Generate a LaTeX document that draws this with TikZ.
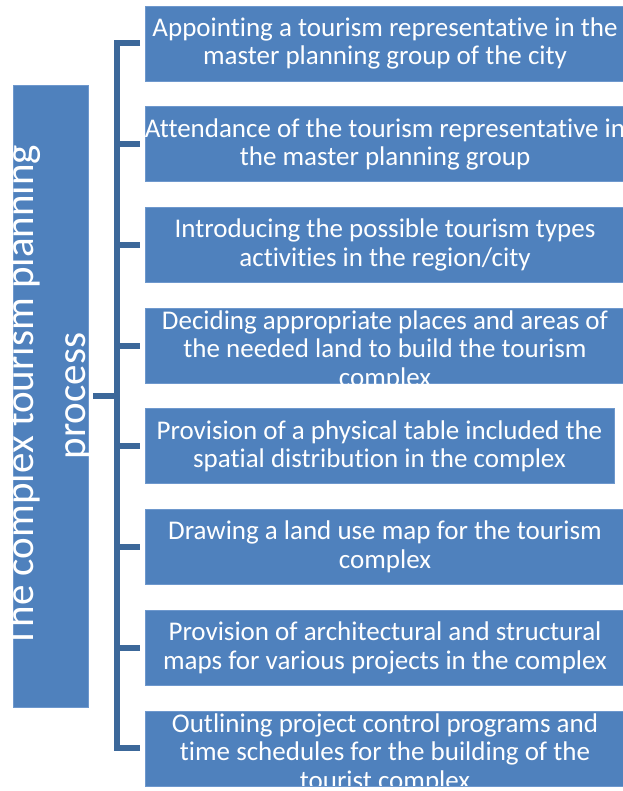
\documentclass[tikz,border=0pt]{standalone}
\usepackage{fontspec}
\setmainfont{Carlito}[Ligatures={NoCommon}]
\definecolor{boxblue}{RGB}{79,129,189}
\definecolor{edgeblue}{RGB}{110,152,205}
\definecolor{linkblue}{RGB}{60,104,154}
\begin{document}
\begin{tikzpicture}[x=1pt,y=-1pt,
  box/.style={fill=boxblue, draw=edgeblue, line width=0.7pt, inner sep=0pt, outer sep=0pt, anchor=north west},
  boxtext/.style={text=white, font=\fontsize{27}{28.5}\selectfont, align=center, inner sep=0pt},
  sidetext/.style={text=white, font=\fontsize{41}{48}\selectfont, inner sep=0pt, rotate=90, anchor=base},
  link/.style={draw=linkblue, line width=6pt, line join=miter}]
\useasboundingbox (0,0) rectangle (622,791);
% left box
\node[box, minimum width=75, minimum height=622] (L) at (13,85) {};
\begin{scope}
  \clip (L.north west) rectangle (L.south east);
  \node[sidetext] (t1) at (33,396) {The complex tourism planning};
  \node[sidetext] (t2) at (85,396) {process};
\end{scope}
% right boxes
\foreach \i/\y/\w/\s/\txt in {
  1/6/480/0/{Appointing a tourism representative in the\\master planning group of the city},
  2/106.7/480/0/{Attendance of the tourism representative in\\the master planning group},
  3/207.4/480/0/{Introducing the possible tourism types\\activities in the region/city},
  4/308.1/480/-5/{Deciding appropriate places and areas of\\the needed land to build the tourism\\complex},
  5/408.8/469/0/{Provision of a physical table included the\\spatial distribution in the complex},
  6/509.5/480/0/{Drawing a land use map for the tourism\\complex},
  7/610.2/480/0/{Provision of architectural and structural\\maps for various projects in the complex},
  8/710.9/480/-5/{Outlining project control programs and\\time schedules for the building of the\\tourist complex}}{
  \node[box, minimum width=\w, minimum height=75] (b\i) at (145,\y) {};
  \begin{scope}
    \clip (b\i.north west) rectangle (b\i.south east);
    \node[boxtext, yshift=\s pt] (bt\i) at (b\i.center) {\txt};
  \end{scope}
}
% bracket
\coordinate (spine) at (117,0);
\draw[link, shorten >=5pt] (b1.west) ++(-5,0) -- (b1.west -| spine) -- (b8.west -| spine) -- (b8.west);
\foreach \i in {2,...,7}{
  \draw[link, shorten >=5pt] (b\i.west -| spine) -- (b\i.west);
}
\draw[link, shorten <=5pt] (L.east) -- (L.east -| spine);
\end{tikzpicture}
\end{document}
